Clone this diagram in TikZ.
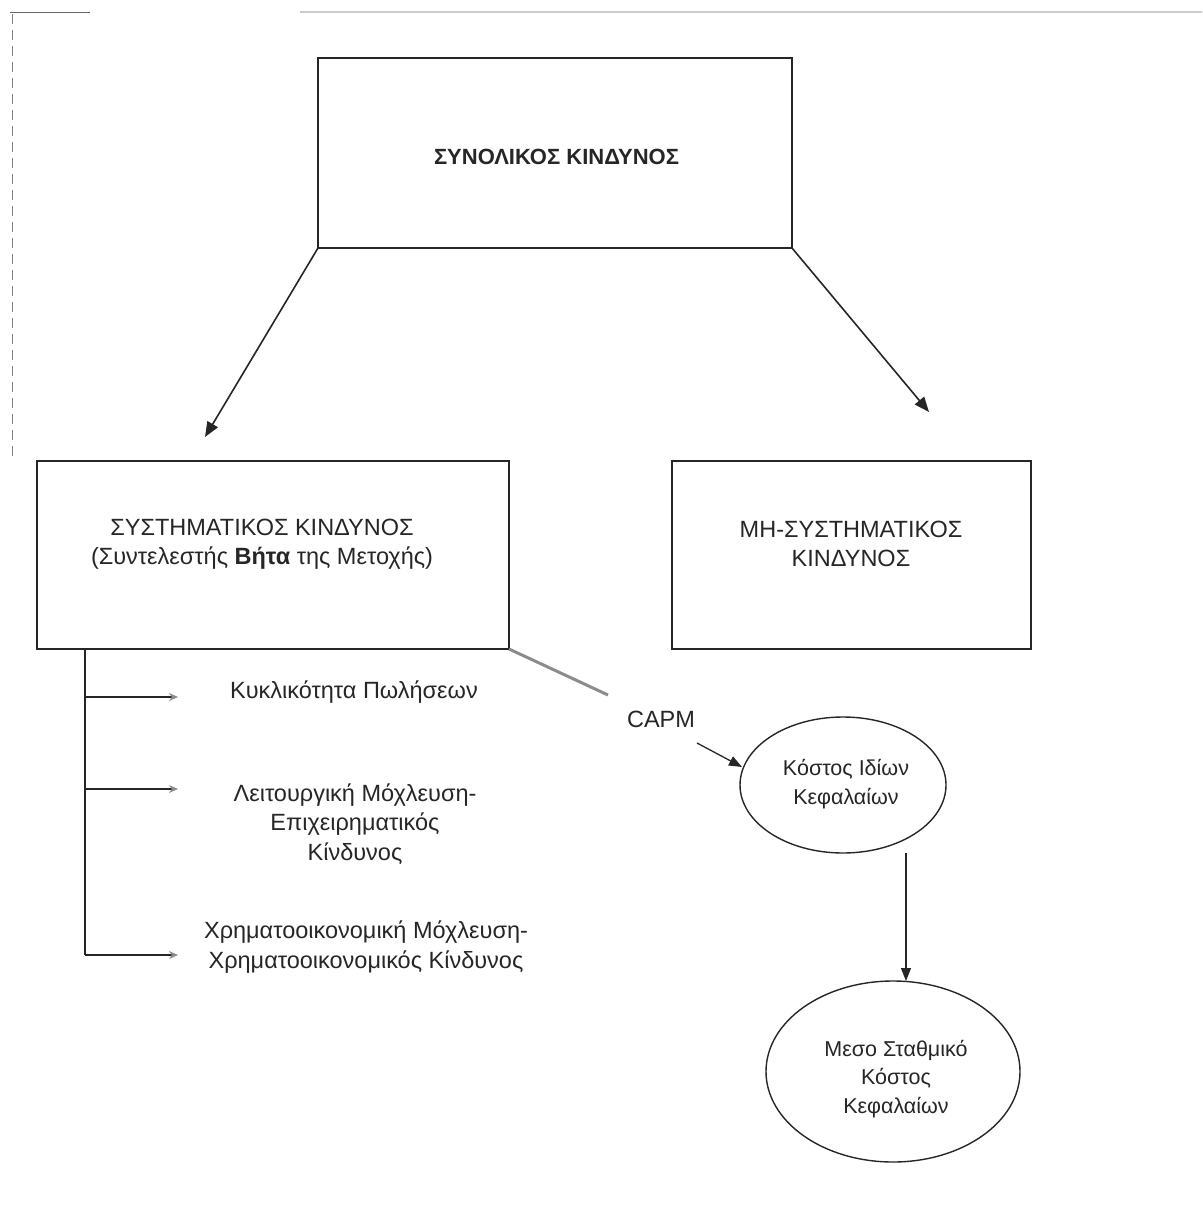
\documentclass[tikz,border=0pt]{standalone}
\usepackage{fontspec}
\setmainfont{Liberation Sans}
\usetikzlibrary{arrows.meta,shapes.geometric}
\begin{document}
\begin{tikzpicture}[x=1pt,y=-1pt,
  every node/.style={inner sep=0pt, outer sep=0pt},
  boxnode/.style={draw=black!85, line width=1.6pt, rectangle},
  ellnode/.style={draw=black!85, line width=1.4pt, ellipse},
  txt/.style={font=\fontsize{23.5}{29.5}\selectfont, text=black!85, align=center},
  etxt/.style={font=\fontsize{21.5}{28.5}\selectfont, text=black!85, align=center},
  bigarrow/.style={draw=black!85, line width=1.6pt, -{Triangle[length=15pt,width=12pt]}},
  midarrow/.style={draw=black!85, line width=1.3pt, -{Triangle[length=13pt,width=10pt]}},
  smallarrow/.style={draw=black!85, line width=1.3pt, -{Stealth[length=9pt,width=8pt,black!45]}},
  bracket/.style={draw=black!85, line width=1.3pt}]
\useasboundingbox (0,0) rectangle (1202,1230);
% faint page frame
\draw[black!20, line width=2pt] (300,12) -- (1202,12);
\draw[black!60, line width=1pt] (10,13) -- (90,13);
\draw[black!50, line width=1pt, dash pattern=on 10pt off 6pt] (12,14) -- (12,460);

% boxes
\node[boxnode, minimum width=474pt, minimum height=190pt] (top) at (555,153) {};
\node[txt, font=\fontsize{22}{27}\selectfont\bfseries, anchor=west] (toptxt) at (434,157) {ΣΥΝΟΛΙΚΟΣ ΚΙΝΔΥΝΟΣ};

\node[boxnode, minimum width=472pt, minimum height=188pt] (sys) at (273,555) {};
\node[txt] (systxt) at (262,544) {ΣΥΣΤΗΜΑΤΙΚΟΣ ΚΙΝΔΥΝΟΣ\\(Συντελεστής \textbf{Βήτα} της Μετοχής)};

\node[boxnode, minimum width=359pt, minimum height=188pt] (nonsys) at (851.5,555) {};
\node[txt] (nonsystxt) at (851,544) {ΜΗ-ΣΥΣΤΗΜΑΤΙΚΟΣ\\ΚΙΝΔΥΝΟΣ};

% arrows from top
\draw[bigarrow] (top.south west) -- (205,437);
\draw[bigarrow] (top.south east) -- (929,412);

% bracket on the left
\coordinate (b0) at (85,649);
\coordinate (b1) at (85,697);
\coordinate (b2) at (85,789);
\coordinate (b3) at (85,955);
\coordinate (t1) at (178,697);
\coordinate (t2) at (178,789);
\coordinate (t3) at (178,955);
\draw[bracket] (b0) -- (b3);
\draw[smallarrow] (b1) -- (t1);
\draw[smallarrow] (b2) -- (t2);
\draw[smallarrow] (b3) -- (t3);

\node[txt] (f1) at (354,692) {Κυκλικότητα Πωλήσεων};
\node[txt] (f2) at (355,824) {Λειτουργική Μόχλευση-\\Επιχειρηματικός\\Κίνδυνος};
\node[txt] (f3) at (366,947) {Χρηματοοικονομική Μόχλευση-\\Χρηματοοικονομικός Κίνδυνος};

% gray connector
\coordinate (g1) at (608,695);
\draw[black!45, line width=3pt] (sys.south east) -- (g1);

% ellipses
\node[ellnode, minimum width=206pt, minimum height=136pt] (coe) at (843,785) {};
\node[etxt] (coetxt) at (846,784) {Κόστος Ιδίων\\Κεφαλαίων};
\node[ellnode, minimum width=254pt, minimum height=181pt] (wacc) at (893,1071.5) {};
\node[etxt] (wacctxt) at (896,1079) {Μεσο Σταθμικό\\Κόστος\\Κεφαλαίων};

% CAPM
\node[txt] (capm) at (661,719) {CAPM};
\coordinate (c0) at (697,743);
\draw[midarrow] (c0) -- (742,767);

% down arrow
\draw[midarrow] (906,853) -- (906,981);
\end{tikzpicture}
\end{document}
